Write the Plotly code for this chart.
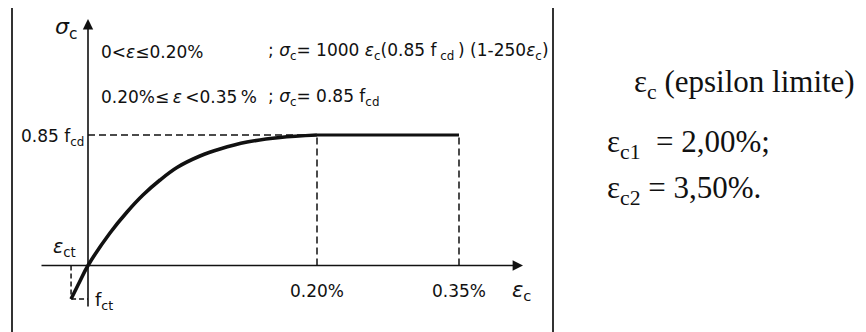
import plotly.graph_objects as go

# ---------------- data ----------------
# strain in %, stress as ratio sigma_c / (0.85 f_cd)
eps_curve = [-0.0148, -0.0074, 0.0, 0.0192, 0.0341, 0.0480, 0.0629, 0.0777,
             0.0978, 0.1153, 0.1389, 0.1677, 0.20]
sig_curve = [-0.257, -0.126, 0.0, 0.249, 0.410, 0.540, 0.655, 0.751,
             0.839, 0.893, 0.946, 0.981, 1.0]
eps_plateau = [0.20, 0.35]
sig_plateau = [1.0, 1.0]
eps_c1 = 0.20
eps_c2 = 0.35
eps_ct = -0.0148
f_ct = -0.257
peak = 1.0
tick_labels = ["0.20%", "0.35%"]

# ---------------- layout calibration ----------------
W, H = 866, 332
ORIGIN_PX, C1_PX, C2_PX = 88, 317, 459
AXIS_PY, PEAK_PY = 265.5, 135
sx1 = (C1_PX - ORIGIN_PX) / eps_c1            # px per % (rising branch)
sx2 = (C2_PX - C1_PX) / (eps_c2 - eps_c1)     # px per % (plateau branch)
sy = (AXIS_PY - PEAK_PY) / peak

def px(x):
    return x / W

def py(y):
    return 1 - y / H

d1 = (0.0, 0.6)
d2 = (0.2, 1.0)
x1_range = [(d1[0] * W - ORIGIN_PX) / sx1, (d1[1] * W - ORIGIN_PX) / sx1]
x2_range = [eps_c1 + (d2[0] * W - C1_PX) / sx2, eps_c1 + (d2[1] * W - C1_PX) / sx2]
y_range = [(AXIS_PY - H) / sy, AXIS_PY / sy]

def yval(p):
    return (AXIS_PY - p) / sy

INK = "#111111"
DASH = "7px,4px"

fig = go.Figure()
# rising branch
fig.add_trace(go.Scatter(x=eps_curve, y=sig_curve, mode="lines",
                         line=dict(color=INK, width=3.6, shape="spline", smoothing=1.0),
                         xaxis="x", yaxis="y", hoverinfo="skip"))
# plateau
fig.add_trace(go.Scatter(x=eps_plateau, y=sig_plateau, mode="lines",
                         line=dict(color=INK, width=3.0),
                         xaxis="x2", yaxis="y", hoverinfo="skip"))
# guides
fig.add_trace(go.Scatter(x=[0, eps_c1], y=[peak, peak], mode="lines",
                         line=dict(color=INK, width=1.5, dash=DASH),
                         xaxis="x", yaxis="y", hoverinfo="skip"))
fig.add_trace(go.Scatter(x=[eps_c1, eps_c1], y=[0, peak], mode="lines",
                         line=dict(color=INK, width=1.5, dash=DASH),
                         xaxis="x", yaxis="y", hoverinfo="skip"))
fig.add_trace(go.Scatter(x=[eps_c2, eps_c2], y=[0, peak], mode="lines",
                         line=dict(color=INK, width=1.5, dash=DASH),
                         xaxis="x2", yaxis="y", hoverinfo="skip"))
fig.add_trace(go.Scatter(x=[eps_ct, eps_ct], y=[0, f_ct], mode="lines",
                         line=dict(color=INK, width=1.5, dash="5px,3px"),
                         xaxis="x", yaxis="y", hoverinfo="skip"))
fig.add_trace(go.Scatter(x=[eps_ct, 0], y=[f_ct, f_ct], mode="lines",
                         line=dict(color=INK, width=1.5, dash="5px,3px"),
                         xaxis="x", yaxis="y", hoverinfo="skip"))

SANS = "DejaVu Sans"
SERIF = "Liberation Serif"
ann = []
# axes with arrows
ann.append(dict(x=0, y=yval(19), xref="x", yref="y", axref="x", ayref="y",
                ax=0, ay=yval(308), text="", showarrow=True, arrowhead=2,
                arrowsize=1.3, arrowwidth=1.6, arrowcolor=INK))
ann.append(dict(x=px(523), y=0, xref="paper", yref="y", axref="pixel", ayref="pixel",
                ax=-(523 - 40), ay=0, text="", showarrow=True, arrowhead=2,
                arrowsize=1.3, arrowwidth=1.6, arrowcolor=INK))

def lab(text, x, y, xanchor="left", size=17, family=SANS, xref="paper"):
    ann.append(dict(text=text, x=x, y=py(y), xref=xref, yref="paper",
                    xanchor=xanchor, yanchor="middle", showarrow=False,
                    font=dict(family=family, size=size, color=INK)))

lab("<i>σ</i><sub>c</sub>", px(79), 29, xanchor="right", size=22)
lab("0&lt;<i>ε</i>≤0.20%", px(99), 52)
lab("; <i>σ</i><sub>c</sub>= 1000 <i>ε</i><sub>c</sub>(0.85 f<sub> cd </sub>) (1-250<i>ε</i><sub>c</sub>)", px(266), 52)
lab("0.20%≤\u2009<i>ε</i>\u2009&lt;0.35\u2009%", px(99), 97)
lab("; <i>σ</i><sub>c</sub>= 0.85 f<sub>cd</sub>", px(266), 97)
lab("0.85 f<sub>cd</sub>", px(86), 137, xanchor="right")
lab("<i>ε</i><sub>ct</sub>", px(51), 247, size=19)
lab("f<sub>ct</sub>", px(93), 301, size=18)
lab(tick_labels[0], eps_c1, 291, xanchor="center", xref="x")
lab(tick_labels[1], eps_c2, 291, xanchor="center", xref="x2")
lab("<i>ε</i><sub>c</sub>", px(510), 291, size=21)

lab("ε<sub>c</sub> (epsilon limite)", px(632), 84, size=31, family=SERIF)
lab("ε<sub>c1</sub>&nbsp;&nbsp;= 2,00%;", px(605), 144, size=31, family=SERIF)
lab("ε<sub>c2</sub> = 3,50%.", px(605), 190, size=31, family=SERIF)

shapes = [
    dict(type="line", xref="paper", yref="paper", x0=px(12), x1=px(12), y0=py(8), y1=0,
         line=dict(color="#333333", width=2)),
    dict(type="line", xref="paper", yref="paper", x0=px(553), x1=px(553), y0=py(8), y1=0,
         line=dict(color="#333333", width=2)),
]

hidden = dict(visible=False, showgrid=False, zeroline=False, fixedrange=True)
fig.update_layout(
    width=W, height=H, margin=dict(l=0, r=0, t=0, b=0),
    paper_bgcolor="white", plot_bgcolor="rgba(0,0,0,0)", showlegend=False,
    xaxis=dict(domain=list(d1), range=x1_range, anchor="y", **hidden),
    xaxis2=dict(domain=list(d2), range=x2_range, anchor="y", **hidden),
    yaxis=dict(domain=[0, 1], range=y_range, anchor="x", **hidden),
    annotations=ann, shapes=shapes,
)

fig.write_html("out.html", config={"displayModeBar": False},
               post_script="document.body.style.margin='0px';")
